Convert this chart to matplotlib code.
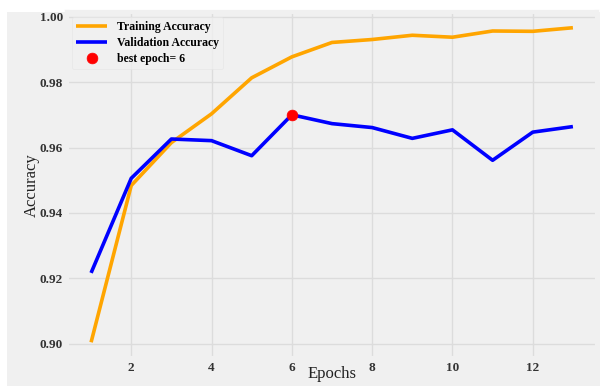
import matplotlib
matplotlib.use("Agg")
import matplotlib.pyplot as plt
from matplotlib.patches import Rectangle

plt.style.use('fivethirtyeight')
plt.rcParams['font.family'] = ['Liberation Serif', 'DejaVu Serif']

# values
epochs = [1, 2, 3, 4, 5, 6, 7, 8, 9, 10, 11, 12, 13]
train_acc = [0.9005, 0.9484, 0.9615, 0.9703, 0.9813, 0.9877, 0.9921, 0.9930,
             0.9943, 0.9937, 0.9956, 0.9955, 0.9966]
val_acc = [0.9217, 0.9506, 0.9626, 0.9621, 0.9575, 0.9700, 0.9673, 0.9661,
           0.9628, 0.9654, 0.9561, 0.9647, 0.9664]
best_epoch = 6
best_label = 'best epoch= ' + str(best_epoch)

fig = plt.figure(figsize=(6.05, 3.86), dpi=100, facecolor='white')
# the reference is a crop of a larger grey figure
fig.patches.append(Rectangle((7 / 605, 0), 593 / 605, 1 - 12 / 386,
                             transform=fig.transFigure, facecolor='#f0f0f0',
                             edgecolor='none', zorder=-10))
ax = fig.add_axes([67 / 605, 1 - 358 / 386, 530 / 605, 346 / 386])
ax.set_facecolor('#f0f0f0')

ax.plot(epochs, train_acc, color='orange', lw=2.6, label='Training Accuracy')
ax.plot(epochs, val_acc, color='blue', lw=2.6, label='Validation Accuracy')
ax.scatter(best_epoch, val_acc[best_epoch - 1], s=60, c='red', label=best_label, zorder=3)

ax.set_xticks([2, 4, 6, 8, 10, 12])
ax.set_yticks([0.90, 0.92, 0.94, 0.96, 0.98, 1.00])
ax.set_yticklabels(['0.90', '0.92', '0.94', '0.96', '0.98', '1.00'])
ax.tick_params(labelsize=9.5, labelcolor='#333333', pad=3)
for t in ax.get_xticklabels() + ax.get_yticklabels():
    t.set_fontweight('bold')
ax.grid(True, color='#dcdcdc', lw=1)
ax.set_xlabel('Epochs', fontsize=12, color='#222222', labelpad=-6)
ax.set_ylabel('Accuracy', fontsize=12, color='#222222', labelpad=0)

leg = ax.legend(loc='upper left', frameon=True, handlelength=2.6,
                labelspacing=0.3, borderaxespad=0.4, borderpad=0.4,
                prop={'weight': 'bold', 'size': 8.5})
leg.get_frame().set_facecolor('#f0f0f0')
leg.get_frame().set_edgecolor('#e4e4e4')

fig.savefig('out.png', dpi=100, facecolor='white')
